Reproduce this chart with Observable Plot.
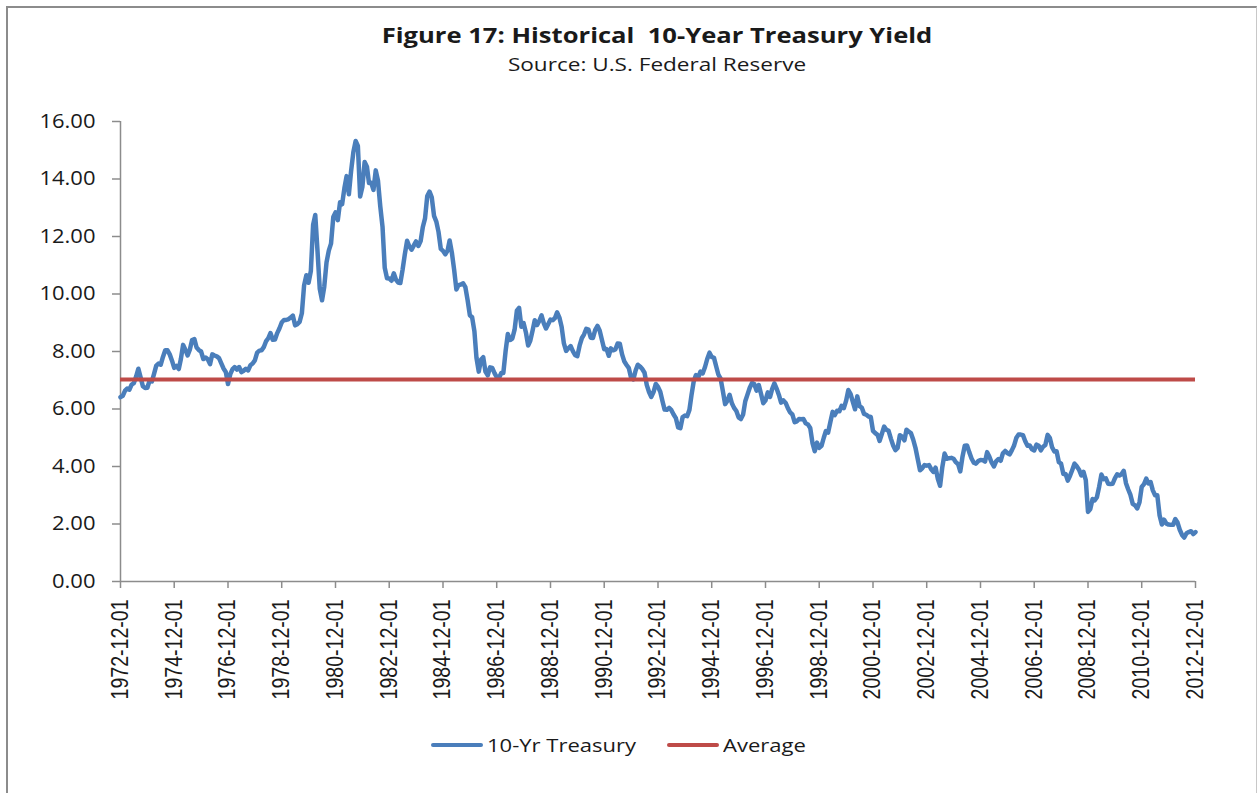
<!DOCTYPE html>
<html><head><meta charset="utf-8">
<script src="https://cdn.jsdelivr.net/npm/d3@7"></script>
<script src="https://cdn.jsdelivr.net/npm/@observablehq/plot@0.6"></script>
<style>
html,body{margin:0;padding:0;background:#fff;}
#wrap{position:relative;width:1258px;height:793px;overflow:hidden;background:#fff;}
#frame{position:absolute;left:6px;top:6px;width:1251px;height:820px;border:2px solid #8c8c8c;border-right:1px solid #c8c8c8;box-sizing:border-box;}
#chart{position:absolute;left:0;top:0;}
.t{position:absolute;left:0;width:1314px;text-align:center;color:#1a1a1a;font-family:"Open Sans",sans-serif;white-space:nowrap;transform-origin:657px 50%;}
#title{top:19.5px;font-size:21.7px;font-weight:bold;line-height:30px;transform:scaleX(1.18);}
#subtitle{top:52px;font-size:18.5px;line-height:24px;transform:scaleX(1.22);}
#legend{position:absolute;top:731px;left:0;height:28px;font-family:"Open Sans",sans-serif;font-size:18.2px;color:#1a1a1a;}
.item{position:absolute;top:0;height:28px;line-height:28px;white-space:nowrap;}
.sw{position:absolute;top:12px;height:4px;width:52px;border-radius:2px;}
.lab{position:absolute;left:56px;top:0;transform:scaleX(1.21);transform-origin:0 50%;}
</style>
</head><body>
<div id="wrap">
  <div id="frame"></div>
  <div id="chart"></div>
  <div class="t" id="title">Figure 17: Historical&nbsp; 10-Year Treasury Yield</div>
  <div class="t" id="subtitle">Source: U.S. Federal Reserve</div>
  <div id="legend"></div>
</div>
<script>
// ---- data ----
const seriesNames = ["10-Yr Treasury", "Average"];
const seriesColors = ["#4A7EBB", "#BE4B48"];
const startMonth = "1972-12-01";
// monthly 10-year Treasury yield (%), Dec 1972 .. Dec 2012
const yields1970s = [
  6.41,
  6.46,6.64,6.71,6.67,6.85,6.90,7.13,7.40,7.09,6.79,6.73,6.74,
  6.99,6.96,7.21,7.51,7.58,7.54,7.81,8.04,8.04,7.90,7.68,7.43,
  7.50,7.39,7.73,8.23,8.06,7.86,8.06,8.40,8.43,8.14,8.05,8.00,
  7.74,7.79,7.73,7.56,7.90,7.86,7.83,7.77,7.59,7.41,7.29,6.87,
  7.21,7.39,7.46,7.37,7.46,7.28,7.33,7.40,7.34,7.52,7.58,7.69,
  7.96,8.03,8.04,8.15,8.35,8.46,8.64,8.41,8.42,8.64,8.81,9.01,
  9.10,9.10,9.12,9.18,9.25,8.91,8.95,9.03,9.33,10.30,10.65,10.39
];
const yields1980s = [
  10.80,12.41,12.75,11.47,10.18,9.78,10.25,11.10,11.51,11.75,12.68,12.84,
  12.57,13.19,13.12,13.68,14.10,13.47,14.28,14.94,15.32,15.15,13.39,13.72,
  14.59,14.43,13.86,13.87,13.62,14.30,13.95,13.06,12.34,10.91,10.55,10.54,
  10.46,10.72,10.51,10.40,10.38,10.85,11.38,11.85,11.65,11.54,11.69,11.83,
  11.67,11.84,12.32,12.63,13.41,13.56,13.36,12.72,12.52,12.16,11.57,11.50,
  11.38,11.51,11.86,11.43,10.85,10.16,10.31,10.33,10.37,10.24,9.78,9.26,
  9.19,8.70,7.78,7.30,7.71,7.80,7.30,7.17,7.45,7.43,7.25,7.11,
  7.08,7.25,7.25,8.02,8.61,8.40,8.45,8.76,9.42,9.52,8.86,8.99,
  8.67,8.21,8.37,8.72,9.09,8.92,9.06,9.26,8.98,8.80,8.96,9.11,
  9.09,9.17,9.36,9.18,8.86,8.28,8.02,8.11,8.19,8.01,7.87,7.84
];
const yields1990s = [
  8.21,8.47,8.59,8.79,8.76,8.48,8.47,8.75,8.89,8.72,8.39,8.08,
  8.09,7.85,8.11,8.04,8.07,8.28,8.27,7.90,7.65,7.53,7.42,7.09,
  7.03,7.34,7.54,7.48,7.39,7.26,6.84,6.59,6.42,6.59,6.87,6.77,
  6.60,6.26,5.98,5.97,6.04,5.96,5.81,5.68,5.36,5.33,5.72,5.77,
  5.75,5.97,6.48,6.97,7.18,7.10,7.30,7.24,7.46,7.74,7.96,7.81,
  7.78,7.47,7.20,7.06,6.63,6.17,6.28,6.49,6.20,6.04,5.93,5.71,
  5.65,5.81,6.27,6.51,6.74,6.91,6.87,6.64,6.83,6.53,6.20,6.30,
  6.58,6.42,6.69,6.89,6.71,6.49,6.22,6.30,6.21,6.03,5.88,5.81,
  5.54,5.57,5.65,5.64,5.65,5.50,5.46,5.34,4.81,4.53,4.83,4.65,
  4.72,5.00,5.23,5.18,5.54,5.90,5.79,5.94,5.92,6.11,6.03,6.28
];
const yields2000s = [
  6.66,6.52,6.26,5.99,6.44,6.10,6.05,5.83,5.80,5.74,5.72,5.24,
  5.16,5.10,4.89,5.14,5.39,5.28,5.24,4.97,4.73,4.57,4.65,5.09,
  5.04,4.91,5.28,5.21,5.16,4.93,4.65,4.26,3.87,3.94,4.05,4.03,
  4.05,3.90,3.81,3.96,3.57,3.33,3.98,4.45,4.27,4.29,4.30,4.27,
  4.15,4.08,3.83,4.35,4.72,4.73,4.50,4.28,4.13,4.10,4.19,4.23,
  4.22,4.17,4.50,4.34,4.14,4.00,4.18,4.26,4.20,4.46,4.54,4.47,
  4.42,4.57,4.72,4.99,5.11,5.11,5.09,4.88,4.72,4.73,4.60,4.56,
  4.76,4.72,4.56,4.69,4.75,5.10,5.00,4.67,4.52,4.53,4.15,4.10,
  3.74,3.74,3.51,3.68,3.88,4.10,4.01,3.89,3.69,3.81,3.53,2.42,
  2.52,2.87,2.82,2.93,3.29,3.72,3.56,3.59,3.40,3.39,3.40,3.59
];
const yields2010s = [
  3.73,3.69,3.73,3.85,3.42,3.20,3.01,2.70,2.65,2.54,2.76,3.29,
  3.39,3.58,3.41,3.46,3.17,3.00,3.00,2.30,1.98,2.15,2.01,1.98,
  1.97,1.97,2.17,2.05,1.80,1.62,1.53,1.68,1.72,1.75,1.65,1.72
];
const averageYield = 7.03;
const xTickLabels = ["1972-12-01","1974-12-01","1976-12-01","1978-12-01","1980-12-01","1982-12-01","1984-12-01","1986-12-01","1988-12-01","1990-12-01","1992-12-01","1994-12-01","1996-12-01","1998-12-01","2000-12-01","2002-12-01","2004-12-01","2006-12-01","2008-12-01","2010-12-01","2012-12-01"];
const yTicks = [0,2,4,6,8,10,12,14,16];

// ---- build table ----
const allYields = [].concat(yields1970s, yields1980s, yields1990s, yields2000s, yields2010s);
const start = d3.utcParse("%Y-%m-%d")(startMonth);
const rows = allYields.map((v, i) => ({date: d3.utcMonth.offset(start, i), value: v}));
const xDomain = [rows[0].date, rows[rows.length - 1].date];
const tickDates = xTickLabels.map(d3.utcParse("%Y-%m-%d"));
const fmt = d3.utcFormat("%Y-%m-%d");

const chart = Plot.plot({
  width: 1258,
  height: 793,
  marginTop: 121,
  marginBottom: 212,
  marginLeft: 120,
  marginRight: 63,
  style: {fontFamily: "'Open Sans', sans-serif", background: "transparent", color: "#1a1a1a"},
  x: {type: "utc", domain: xDomain},
  y: {domain: [0, 16]},
  marks: [
    Plot.axisY({ticks: yTicks, tickFormat: d => d.toFixed(2), tickSize: 8, tickPadding: 17, fontSize: 20, stroke: "#8c8c8c", strokeWidth: 1.5, strokeOpacity: 1, label: null}),
    Plot.axisX({ticks: tickDates, tickFormat: fmt, tickRotate: -90, tickSize: 7, tickPadding: 11, fontSize: 23, stroke: "#8c8c8c", strokeWidth: 1.5, strokeOpacity: 1, label: null, fontFamily: "'Liberation Sans', Arial, sans-serif"}),
    Plot.ruleX([xDomain[0]], {stroke: "#8c8c8c", strokeWidth: 1.5}),
    Plot.ruleY([0], {stroke: "#8c8c8c", strokeWidth: 1.5}),
    Plot.line(rows, {x: "date", y: "value", stroke: seriesColors[0], strokeWidth: 4.5, strokeLinejoin: "round", strokeLinecap: "round"}),
    Plot.ruleY([averageYield], {x1: xDomain[0], x2: xDomain[1], stroke: seriesColors[1], strokeWidth: 4})
  ]
});
// condense the rotated date labels along their length (narrow face)
chart.querySelectorAll('g[aria-label="x-axis tick label"] text').forEach(t => {
  const tr = t.getAttribute("transform") || "";
  t.setAttribute("transform", tr + " scale(0.85,1)");
});
// widen the y labels slightly (wide face)
chart.querySelectorAll('g[aria-label="y-axis tick label"] text').forEach(t => {
  const tr = t.getAttribute("transform") || "";
  t.setAttribute("transform", tr + " scale(1.1,1)");
});
document.getElementById("chart").appendChild(chart);

// ---- legend ----
const legend = document.getElementById("legend");
const legendX = [431, 667];
seriesNames.forEach((name, i) => {
  const it = document.createElement("div");
  it.className = "item";
  it.style.left = legendX[i] + "px";
  it.innerHTML = `<div class="sw" style="background:${seriesColors[i]}"></div><div class="lab">${name}</div>`;
  legend.appendChild(it);
});
</script>
</body></html>
